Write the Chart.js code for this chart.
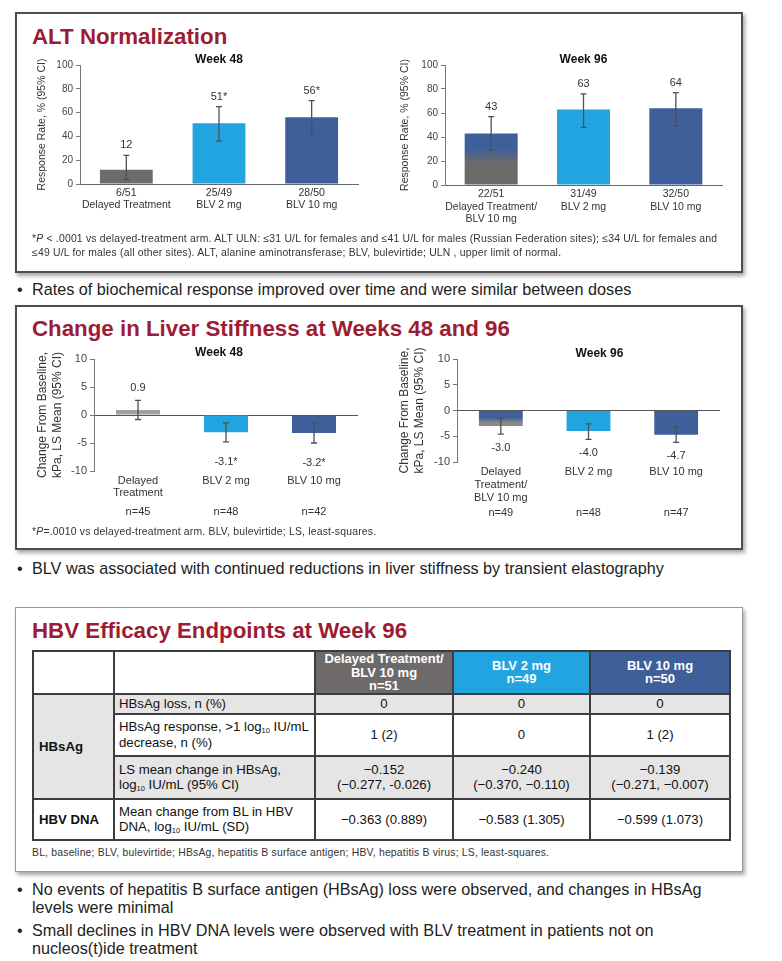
<!DOCTYPE html>
<html>
<head>
<meta charset="utf-8">
<script src="https://cdn.jsdelivr.net/npm/chart.js@4.4.1/dist/chart.umd.min.js"></script>
<style>
body { margin: 0; background: #fff; font-family: "Liberation Sans", Arial, sans-serif; color: #222; }
#page { position: relative; width: 782px; height: 961px; overflow: hidden; }
.panel { position: absolute; left: 15px; width: 724px; border: 2px solid #4d4d4d; box-shadow: 2px 3px 4px rgba(0,0,0,.35); background: #fff; }
.h { position: absolute; left: 32px; font-weight: bold; font-size: 22.3px; line-height: 22px; color: #9d1c33; white-space: nowrap; }
.note { position: absolute; left: 32px; font-size: 10.4px; letter-spacing: 0.2px; line-height: 14px; color: #333; white-space: nowrap; }
.bul { position: absolute; left: 32px; font-size: 16.2px; line-height: 18px; color: #222; white-space: nowrap; }
.bul b { position: absolute; left: -15px; font-weight: normal; }
canvas { position: absolute; }
table { position: absolute; left: 32px; top: 650px; width: 697px; border-collapse: collapse; table-layout: fixed; font-size: 13.2px; color: #111; }
td { border: 2px solid #3d3d3d; padding: 0 4px; line-height: 15.5px; white-space: nowrap; }
td.hd { color: #fff; font-size: 13px; font-weight: bold; line-height: 13.6px; text-align: center; }
td.v { text-align: center; }
td.k { font-weight: bold; padding-left: 5px; }
.g { background: #e5e5e5; }
sub { font-size: 7.5px; line-height: 0; vertical-align: -2px; }
</style>
</head>
<body>
<div id="page">
  <div class="panel" style="top:12px;height:257px"></div>
  <div class="h" style="top:26px">ALT Normalization</div>
  <canvas id="alt48" width="350" height="190" style="left:20px;top:45px"></canvas>
  <canvas id="alt96" width="350" height="190" style="left:385px;top:45px"></canvas>
  <div class="note" style="top:232px">*<i>P</i> &lt; .0001 vs delayed-treatment arm. ALT ULN: ≤31 U/L for females and ≤41 U/L for males (Russian Federation sites); ≤34 U/L for females and<br>≤49 U/L for males (all other sites). ALT, alanine aminotransferase; BLV, bulevirtide; ULN , upper limit of normal.</div>
  <div class="bul" style="top:280px"><b>•</b>Rates of biochemical response improved over time and were similar between doses</div>

  <div class="panel" style="top:305px;height:241px"></div>
  <div class="h" style="top:318px">Change in Liver Stiffness at Weeks 48 and 96</div>
  <canvas id="ls48" width="350" height="195" style="left:20px;top:338px"></canvas>
  <canvas id="ls96" width="350" height="195" style="left:385px;top:338px"></canvas>
  <div class="note" style="top:525px">*<i>P</i>=.0010 vs delayed-treatment arm. BLV, bulevirtide; LS, least-squares.</div>
  <div class="bul" style="top:559px"><b>•</b>BLV was associated with continued reductions in liver stiffness by transient elastography</div>

  <div class="panel" style="top:607px;height:263px;width:726px;border:1px solid #9a9a9a"></div>
  <div class="h" style="top:620px">HBV Efficacy Endpoints at Week 96</div>
  <table>
    <colgroup><col style="width:81px"><col style="width:201px"><col style="width:138px"><col style="width:137px"><col style="width:140px"></colgroup>
    <tr style="height:41px"><td></td><td></td>
      <td class="hd" style="background:#6e6a6a">Delayed Treatment/<br>BLV 10 mg<br>n=51</td>
      <td class="hd" style="background:#22a4e0">BLV 2 mg<br>n=49</td>
      <td class="hd" style="background:#3f5f9b">BLV 10 mg<br>n=50</td></tr>
    <tr style="height:20px" class="g"><td class="k" rowspan="3">HBsAg</td><td>HBsAg loss, n (%)</td><td class="v">0</td><td class="v">0</td><td class="v">0</td></tr>
    <tr style="height:42px"><td>HBsAg response, &gt;1 log<sub>10</sub> IU/mL<br>decrease, n (%)</td><td class="v">1 (2)</td><td class="v">0</td><td class="v">1 (2)</td></tr>
    <tr style="height:43px" class="g"><td>LS mean change in HBsAg,<br>log<sub>10</sub> IU/mL (95% CI)</td><td class="v">−0.152<br>(−0.277, -0.026)</td><td class="v">−0.240<br>(−0.370, −0.110)</td><td class="v">−0.139<br>(−0.271, −0.007)</td></tr>
    <tr style="height:41px"><td class="k">HBV DNA</td><td>Mean change from BL in HBV<br>DNA, log<sub>10</sub> IU/mL (SD)</td><td class="v">−0.363 (0.889)</td><td class="v">−0.583 (1.305)</td><td class="v">−0.599 (1.073)</td></tr>
  </table>
  <div class="note" style="top:846px">BL, baseline; BLV, bulevirtide; HBsAg, hepatitis B surface antigen; HBV, hepatitis B virus; LS, least-squares.</div>

  <div class="bul" style="top:880px"><b>•</b>No events of hepatitis B surface antigen (HBsAg) loss were observed, and changes in HBsAg<br>levels were minimal</div>
  <div class="bul" style="top:921px"><b>•</b>Small declines in HBV DNA levels were observed with BLV treatment in patients not on<br>nucleos(t)ide treatment</div>
</div>

<script>
// ALT normalization
const altCats48 = [["6/51", "Delayed Treatment"], ["25/49", "BLV 2 mg"], ["28/50", "BLV 10 mg"]];
const altCats96 = [["22/51", "Delayed Treatment/", "BLV 10 mg"], ["31/49", "BLV 2 mg"], ["32/50", "BLV 10 mg"]];
const alt48 = [12, 51, 56];
const alt48Low = [4, 36, 41];
const alt48High = [24, 65, 70];
const alt48Labels = ["12", "51*", "56*"];
const alt96 = [43, 63, 64];
const alt96Low = [29, 48, 49];
const alt96High = [57, 76, 77];
const alt96Labels = ["43", "63", "64"];
const altTicks = [0, 20, 40, 60, 80, 100];

// liver stiffness
const lsCats48 = [["Delayed", "Treatment"], "BLV 2 mg", "BLV 10 mg"];
const lsCats96 = [["Delayed", "Treatment/", "BLV 10 mg"], "BLV 2 mg", "BLV 10 mg"];
const lsN48 = ["n=45", "n=48", "n=42"];
const lsN96 = ["n=49", "n=48", "n=47"];
const ls48 = [0.9, -3.1, -3.2];
const ls48Low = [-0.8, -4.8, -5.0];
const ls48High = [2.6, -1.4, -1.5];
const ls48Labels = ["0.9", "-3.1*", "-3.2*"];
const ls96 = [-3.0, -4.0, -4.7];
const ls96Low = [-4.6, -5.6, -6.2];
const ls96High = [-1.5, -2.6, -3.2];
const ls96Labels = ["-3.0", "-4.0", "-4.7"];
const lsTicks = [-10, -5, 0, 5, 10];

const FONT = '"Liberation Sans", Arial, sans-serif';
const GRAY = "#6b6b6b", LIGHT = "#22a4e0", DARK = "#3f5f9b";

// first bar of week 96 charts fades from blue (top) to gray (bottom)
function fadeFill(topColor, bottomColor, s1, s2) {
  return function (c) {
    const chart = c.chart;
    if (!chart.chartArea) return topColor;
    const y = chart.scales.y;
    const a = y.getPixelForValue(0), b = y.getPixelForValue(c.raw);
    const g = chart.ctx.createLinearGradient(0, Math.min(a, b), 0, Math.max(a, b));
    g.addColorStop(0, topColor);
    g.addColorStop(s1, topColor);
    g.addColorStop(s2, bottomColor);
    g.addColorStop(1, bottomColor);
    return g;
  };
}

const barExtras = {
  id: "barExtras",
  afterDatasetsDraw(chart, args, o) {
    const ctx = chart.ctx, x = chart.scales.x, y = chart.scales.y, area = chart.chartArea;
    const vals = chart.data.datasets[0].data;
    ctx.save();
    ctx.strokeStyle = "#505050";
    ctx.lineWidth = 1.3;
    o.low.forEach((lo, i) => {
      const px = x.getPixelForValue(i), a = y.getPixelForValue(lo), b = y.getPixelForValue(o.high[i]);
      ctx.beginPath();
      ctx.moveTo(px, a); ctx.lineTo(px, b);
      ctx.moveTo(px - 3, a); ctx.lineTo(px + 3, a);
      ctx.moveTo(px - 3, b); ctx.lineTo(px + 3, b);
      ctx.stroke();
    });
    ctx.textAlign = "center";
    ctx.textBaseline = "middle";
    ctx.fillStyle = "#333";
    ctx.font = o.labelSize + "px " + FONT;
    o.labels.forEach((t, i) => {
      const py = vals[i] >= 0 ? y.getPixelForValue(o.high[i]) - o.above : y.getPixelForValue(o.low[i]) + o.below;
      ctx.fillText(t, x.getPixelForValue(i), py);
    });
    if (o.counts) {
      ctx.font = "11px " + FONT;
      o.counts.forEach((t, i) => ctx.fillText(t, x.getPixelForValue(i), area.bottom + o.countGap));
    }
    ctx.fillStyle = "#111";
    ctx.font = "bold 12px " + FONT;
    ctx.fillText(o.title, (area.left + area.right) / 2 + o.titleDx, area.top - o.titleGap);
    ctx.restore();
  }
};

function makeChart(id, cfg) {
  const zeroAxis = cfg.min < 0;
  return new Chart(document.getElementById(id), {
    type: "bar",
    data: {
      labels: cfg.labels,
      datasets: [{
        data: cfg.values,
        backgroundColor: c => {
          const col = cfg.colors[c.dataIndex];
          return typeof col === "function" ? col(c) : col;
        },
        barPercentage: cfg.barPct,
        categoryPercentage: 1
      }]
    },
    options: {
      responsive: false,
      animation: false,
      layout: { padding: { left: 0, top: cfg.padTop, right: cfg.padRight, bottom: 0 } },
      plugins: {
        legend: { display: false },
        tooltip: { enabled: false },
        barExtras: cfg.extras
      },
      scales: {
        x: {
          grid: { display: false, drawTicks: false },
          border: { display: !zeroAxis, color: "#666" },
          ticks: { font: { family: FONT, size: cfg.xFont, lineHeight: cfg.xLine }, color: "#333", padding: cfg.xPad, maxRotation: 0, autoSkip: false },
          afterFit: s => { s.height = cfg.xHeight; }
        },
        y: {
          min: cfg.min, max: cfg.max,
          afterBuildTicks: s => { s.ticks = cfg.ticks.map(v => ({ value: v })); },
          ticks: { font: { family: FONT, size: cfg.yFont }, color: "#444", padding: 3 },
          grid: {
            drawOnChartArea: zeroAxis,
            tickLength: 4,
            tickColor: "#777",
            color: c => (zeroAxis && c.tick && c.tick.value === 0) ? "#555" : "rgba(0,0,0,0)"
          },
          border: { color: "#777" },
          title: { display: true, text: cfg.yTitle, color: "#333", font: { family: FONT, size: cfg.yTitleSize, lineHeight: 1.2 }, padding: { top: cfg.yTitlePad, bottom: 0 } },
          afterFit: s => { s.width = cfg.yWidth; }
        }
      }
    },
    plugins: [barExtras]
  });
}

makeChart("alt48", {
  labels: altCats48, values: alt48, colors: [GRAY, LIGHT, DARK], barPct: 0.57,
  min: 0, max: 100, ticks: altTicks, padTop: 20, padRight: 12, yWidth: 60, xHeight: 51,
  xFont: 10.5, xLine: 1.15, xPad: 3, yFont: 10, yTitle: "Response Rate, % (95% CI)", yTitleSize: 10.5, yTitlePad: 15.7,
  extras: { low: alt48Low, high: alt48High, labels: alt48Labels, labelSize: 11, above: 10, below: 0, title: "Week 48", titleDx: 0, titleGap: 5 }
});

makeChart("alt96", {
  labels: altCats96, values: alt96,
  colors: [fadeFill(DARK, GRAY, 0.3, 0.58), LIGHT, DARK], barPct: 0.574,
  min: 0, max: 100, ticks: altTicks, padTop: 20, padRight: 13, yWidth: 60, xHeight: 50,
  xFont: 10.5, xLine: 1.2, xPad: 3, yFont: 10, yTitle: "Response Rate, % (95% CI)", yTitleSize: 10.5, yTitlePad: 13.4,
  extras: { low: alt96Low, high: alt96High, labels: alt96Labels, labelSize: 11, above: 10, below: 0, title: "Week 96", titleDx: 0, titleGap: 5 }
});

makeChart("ls48", {
  labels: lsCats48, values: ls48, colors: ["#a0a0a0", LIGHT, DARK], barPct: 0.5,
  min: -10, max: 10, ticks: lsTicks, padTop: 21, padRight: 12, yWidth: 74, xHeight: 62,
  xFont: 11, xLine: 1.1, xPad: 4, yFont: 11, yTitle: ["Change From Baseline,", "kPa, LS Mean (95% CI)"], yTitleSize: 12, yTitlePad: 15.8,
  extras: { low: ls48Low, high: ls48High, labels: ls48Labels, labelSize: 11, above: 12, below: 20, counts: lsN48, countGap: 41, title: "Week 48", titleDx: -7, titleGap: 6 }
});

makeChart("ls96", {
  labels: lsCats96, values: ls96,
  colors: [fadeFill(DARK, "#8a8a8a", 0.45, 0.8), LIGHT, DARK], barPct: 0.5,
  min: -10, max: 10, ticks: lsTicks, padTop: 21, padRight: 15, yWidth: 72, xHeight: 71,
  xFont: 11, xLine: 1.15, xPad: 4, yFont: 11, yTitle: ["Change From Baseline,", "kPa, LS Mean (95% CI)"], yTitleSize: 12, yTitlePad: 12.8,
  extras: { low: ls96Low, high: ls96High, labels: ls96Labels, labelSize: 11, above: 12, below: 14, counts: lsN96, countGap: 51, title: "Week 96", titleDx: 11, titleGap: 5 }
});
</script>
</body>
</html>
